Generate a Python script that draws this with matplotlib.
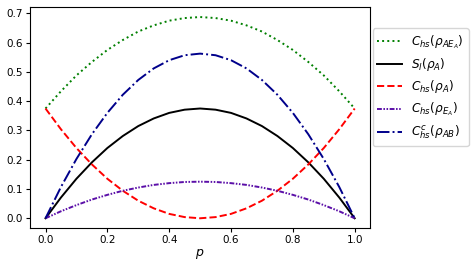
import matplotlib
matplotlib.use('Agg')
import matplotlib.pyplot as plt

# values at p = 0, 0.05, ..., 1
p = [0.0, 0.05, 0.1, 0.15, 0.2, 0.25, 0.3, 0.35, 0.4, 0.45, 0.5,
     0.55, 0.6, 0.65, 0.7, 0.75, 0.8, 0.85, 0.9, 0.95, 1.0]
half_green = [0.375, 0.434, 0.488, 0.534, 0.575, 0.609, 0.638, 0.659, 0.675, 0.684, 0.6875]
half_black = [0.0, 0.071, 0.135, 0.191, 0.240, 0.281, 0.315, 0.341, 0.360, 0.371, 0.375]
half_red = [0.375, 0.304, 0.240, 0.184, 0.135, 0.094, 0.060, 0.034, 0.015, 0.004, 0.0]
half_purple = [0.0, 0.024, 0.045, 0.064, 0.080, 0.094, 0.105, 0.114, 0.120, 0.124, 0.125]
half_blue = [0.0, 0.107, 0.2025, 0.287, 0.360, 0.422, 0.4725, 0.512, 0.540, 0.557, 0.5625]

# curves are symmetric about p = 0.5
def mirror(h):
    return h + h[-2::-1]

c_ae = mirror(half_green)
s_l = mirror(half_black)
c_a = mirror(half_red)
c_e = mirror(half_purple)
c_ab = mirror(half_blue)

plt.rcParams['mathtext.fontset'] = 'dejavusans'

fig = plt.figure(figsize=(4.77, 2.68), dpi=100)
ax = fig.add_axes([0.063, 0.148, 0.713, 0.826])

ax.plot(p, c_ae, color='green', linestyle=':', lw=1.4, label=r'$C_{hs}(\rho_{AE_A})$')
ax.plot(p, s_l, color='black', linestyle='-', lw=1.4, label=r'$S_l(\rho_A)$')
ax.plot(p, c_a, color='red', linestyle='--', lw=1.4, label=r'$C_{hs}(\rho_A)$')
ax.plot(p, c_e, color='#5b0fa8', linestyle=(0, (2.5, 0.8, 0.8, 0.8, 0.8, 0.8)), lw=1.4,
        label=r'$C_{hs}(\rho_{E_A})$')
ax.plot(p, c_ab, color='#00008b', linestyle='-.', lw=1.4, label=r'$C_{hs}^c(\rho_{AB})$')

ax.set_xlabel(r'$p$', fontsize=9, labelpad=1)
ax.tick_params(labelsize=7.5, length=3, pad=2)
ax.set_xticks([0.0, 0.2, 0.4, 0.6, 0.8, 1.0])
ax.set_yticks([0.0, 0.1, 0.2, 0.3, 0.4, 0.5, 0.6, 0.7])

ax.legend(loc='upper left', bbox_to_anchor=(1.0, 0.915), fontsize=8.7,
          handlelength=2.0, borderpad=0.4, labelspacing=0.45, handletextpad=0.8,
          borderaxespad=0.2)

fig.savefig('out.png', dpi=100)
